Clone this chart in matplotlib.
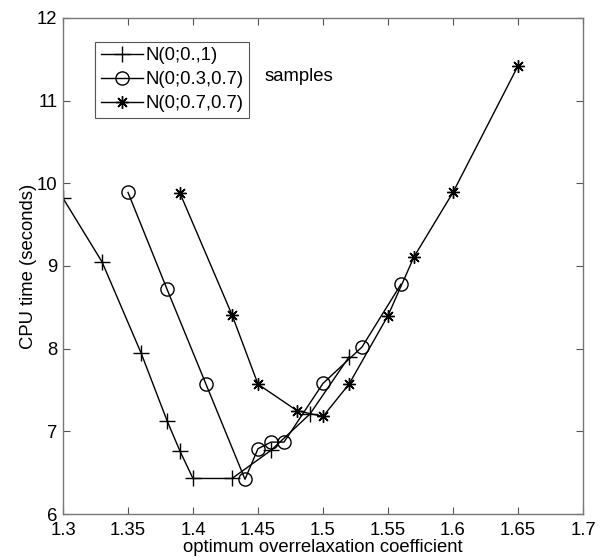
import matplotlib
matplotlib.use("Agg")
import matplotlib.pyplot as plt

plt.rcParams['font.family'] = ['Liberation Sans', 'DejaVu Sans']

# Data
x_plus = [1.30, 1.33, 1.36, 1.38, 1.39, 1.40, 1.43, 1.46, 1.49, 1.52]
y_plus = [9.82, 9.05, 7.95, 7.13, 6.76, 6.43, 6.43, 6.77, 7.21, 7.90]

x_circ = [1.35, 1.38, 1.41, 1.44, 1.45, 1.46, 1.47, 1.50, 1.53, 1.56]
y_circ = [9.89, 8.72, 7.57, 6.42, 6.79, 6.87, 6.87, 7.58, 8.02, 8.78]

x_star = [1.39, 1.43, 1.45, 1.48, 1.50, 1.52, 1.55, 1.57, 1.60, 1.65]
y_star = [9.88, 8.41, 7.57, 7.25, 7.18, 7.57, 8.40, 9.11, 9.89, 11.42]

labels = ['N(0;0.,1)', 'N(0;0.3,0.7)', 'N(0;0.7,0.7)']
x_ticks = [1.3, 1.35, 1.4, 1.45, 1.5, 1.55, 1.6, 1.65, 1.7]
x_ticklabels = ['1.3', '1.35', '1.4', '1.45', '1.5', '1.55', '1.6', '1.65', '1.7']
y_ticks = [6, 7, 8, 9, 10, 11, 12]

fs = 13.3
fig = plt.figure(figsize=(6.1, 5.6), dpi=100)
ax = fig.add_axes([0.1033, 0.0821, 0.8524, 0.8858])

lw = 1.0
ax.plot(x_plus, y_plus, color='black', lw=lw, marker='+', ms=11, mew=1.0, label=labels[0])
ax.plot(x_circ, y_circ, color='black', lw=lw, marker='o', ms=9.5, mfc='none', mew=1.0, label=labels[1])
ax.plot(x_star, y_star, color='black', lw=lw, marker=(8, 2, 0), ms=9, mew=1.0, label=labels[2])

ax.set_xlim(1.3, 1.7)
ax.set_ylim(6, 12)
ax.set_xticks(x_ticks)
ax.set_xticklabels(x_ticklabels)
ax.set_yticks(y_ticks)
ax.tick_params(direction='in', top=True, right=True, length=5, width=0.8,
               color='#555555', labelsize=fs)
ax.tick_params(axis='x', pad=6)
ax.tick_params(axis='y', pad=4)
for s in ax.spines.values():
    s.set_color('#777777')
    s.set_linewidth(1.0)

ax.set_xlabel('optimum overrelaxation coefficient', fontsize=fs, labelpad=0)
ax.set_ylabel('CPU time (seconds)', fontsize=fs, labelpad=0)

ax.text(1.455, 11.29, 'samples', fontsize=fs, va='center', ha='left')

leg = ax.legend(loc='upper left', bbox_to_anchor=(0.0615, 0.952), fontsize=fs,
                frameon=True, fancybox=False, edgecolor='#555555', framealpha=1,
                handlelength=2.3, handletextpad=0.15, labelspacing=0.38,
                borderpad=0.3, borderaxespad=0)
leg.get_frame().set_linewidth(0.8)

fig.savefig('out.png', dpi=100)
